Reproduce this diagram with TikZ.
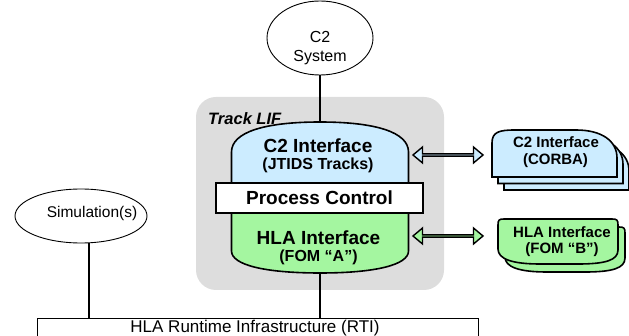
\documentclass[tikz,border=0pt]{standalone}
\usepackage{fontspec}
\setmainfont{Liberation Sans}
\usetikzlibrary{shapes.geometric,shapes.arrows}
\definecolor{ifblue}{RGB}{204,236,255}
\definecolor{ifgreen}{RGB}{164,246,160}
\definecolor{lifgray}{RGB}{221,221,221}
\begin{document}
\begin{tikzpicture}[x=1pt,y=-1pt,
  conn/.style={line width=1.4pt},
  shp/.style={draw, line width=1.6pt},
  anchorbox/.style={inner sep=0pt, minimum width=177pt},
  txtbig/.style={inner sep=0pt, anchor=base, font=\fontsize{19}{19}\selectfont\bfseries},
  txtsub/.style={inner sep=0pt, anchor=base, font=\fontsize{16}{16}\selectfont\bfseries},
  txtright/.style={inner sep=0pt, anchor=base, font=\fontsize{15}{15}\selectfont\bfseries},
  txtplain/.style={inner sep=0pt, anchor=base, font=\fontsize{16}{16}\selectfont},
  dblarrow/.style={double arrow, draw, line width=1.4pt, minimum height=70pt, minimum width=16pt,
     double arrow head extend=4.5pt, double arrow tip angle=80, inner sep=0pt}
]
\useasboundingbox (0,0) rectangle (629,336);

% gray Track LIF container
\node[fill=lifgray, rounded corners=20pt, minimum width=248pt, minimum height=193pt, inner sep=0pt] (lif) at (320,193.5) {};
\node[inner sep=0pt, anchor=base west, font=\fontsize{16.5}{16.5}\selectfont\bfseries\itshape] (liftxt) at (208,125) {Track LIF};

% invisible anchor boxes for the two interface shapes
\node[anchorbox, minimum height=61pt] (c2if) at (320,152.5) {};
\node[anchorbox, minimum height=60pt] (hlaif) at (320,243) {};

% C2 interface (blue dome)
\draw[shp, fill=ifblue] (231.5,183) -- (231.5,152) .. controls (231.5,132) and (265,122) .. (320,122)
   .. controls (375,122) and (408.5,132) .. (408.5,152) -- (408.5,183) -- cycle;
% HLA interface (green, rounded bottom)
\draw[shp, fill=ifgreen] (231.5,213) -- (231.5,251) .. controls (231.5,265) and (265,273) .. (320,273)
   .. controls (375,273) and (408.5,265) .. (408.5,251) -- (408.5,213) -- cycle;
% Process control
\node[draw, line width=1.6pt, fill=white, minimum width=207pt, minimum height=30pt, inner sep=0pt,
      font=\fontsize{19}{19}\selectfont\bfseries] (pc) at (319.5,198) {Process Control};

\node[txtbig] (c2iftxt) at (318,153) {C2 Interface};
\node[txtsub] (c2ifsub) at (318,169.5) {(JTIDS Tracks)};
\node[txtbig] (hlaiftxt) at (318.5,245) {HLA Interface};
\node[txtsub] (hlaifsub) at (318.5,261.5) {(FOM “A”)};

% C2 System
\node[draw, ellipse, line width=0.9pt, minimum width=106pt, minimum height=74pt, inner sep=0pt] (c2sys) at (320,38) {};
\node[txtplain] (c2systxt) at (320,43) {C2};
\node[txtplain] (c2systxt2) at (320,61.5) {System};

% Simulation(s)
\node[draw, ellipse, line width=0.9pt, minimum width=132pt, minimum height=54pt, inner sep=0pt] (sim) at (81,216) {};
\node[inner sep=0pt, anchor=base, font=\fontsize{15.5}{15.5}\selectfont] (simtxt) at (92,218) {Simulation(s)};

% RTI
\node[draw, line width=0.9pt, minimum width=441pt, minimum height=24pt, inner sep=0pt, anchor=north west] (rti) at (37,318) {};
\node[inner sep=0pt, anchor=base, font=\fontsize{17}{17}\selectfont] (rtitxt) at (255,333) {HLA Runtime Infrastructure (RTI)};

% connectors
\draw[conn] (c2sys) -- (c2if.north);
\draw[conn] (hlaif.south) -- (hlaif.south |- rti.north);
\draw[conn] ([xshift=8pt]sim.south) -- ([xshift=8pt]sim.south |- rti.north);

% double arrows
\node[dblarrow, fill=ifblue] (arrc2) at (448,155) {};
\node[dblarrow, fill=ifgreen] (arrhla) at (448,236) {};

% C2 Interface (CORBA) stack
\foreach \dx/\dy in {12/13, 6/6.5, 0/0} {
  \begin{scope}[shift={(\dx,\dy)}]
    \draw[shp, fill=ifblue] (492,177) -- (492,143) .. controls (492,132) and (499,130) .. (515,130)
      -- (576,130) .. controls (602,130) and (617,141) .. (617,158) -- (617,177) -- cycle;
  \end{scope}
}
\node[txtright] (corbatxt) at (556,148) {C2 Interface};
\node[txtright] (corbasub) at (555.5,165) {(CORBA)};

% HLA Interface (FOM B) stack
\foreach \dx/\dy in {7/8, 0/0} {
  \begin{scope}[shift={(\dx,\dy)}]
    \draw[shp, fill=ifgreen] (498,249) -- (498,225) .. controls (498,220) and (499,219) .. (504,219)
      -- (612,219) .. controls (617,219) and (618,220) .. (618,225) -- (618,250)
      .. controls (618,260) and (606,264) .. (578,264) -- (540,264)
      .. controls (512,264) and (498,259) .. (498,249) -- cycle;
  \end{scope}
}
\node[txtright] (fombtxt) at (562,238) {HLA Interface};
\node[txtright] (fombsub) at (562,254) {(FOM “B”)};
\end{tikzpicture}
\end{document}
